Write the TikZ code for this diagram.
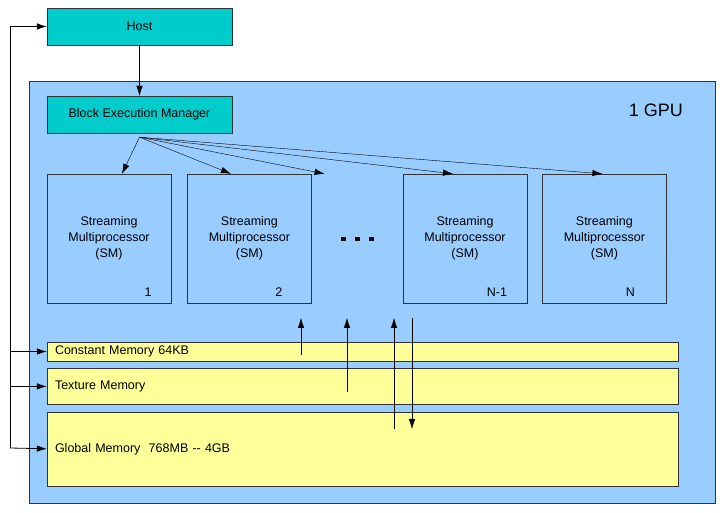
\documentclass[tikz,border=0pt]{standalone}
\usepackage{fontspec}
\setmainfont{Liberation Sans}
\usepackage{tikz}
\usetikzlibrary{arrows.meta,positioning}
\definecolor{hostcyan}{RGB}{0,204,204}
\definecolor{gpublue}{RGB}{153,204,255}
\definecolor{memyellow}{RGB}{255,255,153}
\tikzset{
  unit/.style={draw=black!80, fill=hostcyan, minimum width=185pt, minimum height=37pt, inner sep=0pt},
  smbox/.style={draw=black!80, fill=gpublue, minimum width=124pt, minimum height=129pt, inner sep=0pt, align=center},
  membar/.style={draw=black!80, fill=memyellow, minimum width=631pt, text width=615pt, inner xsep=8pt, inner ysep=0pt, align=left},
  smnum/.style={inner sep=0pt}
}

\begin{document}
\begin{tikzpicture}[x=1pt, y=-1pt, >={Latex[length=10pt,width=6.5pt]}, font=\fontsize{12.5}{16}\selectfont, node distance=7pt]
			\useasboundingbox (0,0) rectangle (724,513);
			\node[draw=black!80, fill=gpublue, minimum width=686pt, minimum height=422pt] (gpu) at (372,292) {};
			\node[font=\fontsize{18}{18}\selectfont] (gpulabel) at (656,110) {1 GPU};
			\node[unit] (host) at (139.5,26.5) {Host};
			\node[unit] (bem) at (139.5,114.5) {Block Execution Manager};
			% streaming multiprocessors
			\node[smbox] (sm1) at (109,238.5) {Streaming\\Multiprocessor\\(SM)};
			\node[smbox, right=16pt of sm1] (sm2) {Streaming\\Multiprocessor\\(SM)};
			\node[smbox] (smn1) at (465,238.5) {Streaming\\Multiprocessor\\(SM)};
			\node[smbox, right=15pt of smn1] (smn) {Streaming\\Multiprocessor\\(SM)};
			\node[smnum] at ([xshift=39pt,yshift=11pt]sm1.south) {1};
			\node[smnum] at ([xshift=29.5pt,yshift=11pt]sm2.south) {2};
			\node[smnum] at ([xshift=32pt,yshift=11pt]smn1.south) {N-1};
			\node[smnum] at ([xshift=26pt,yshift=11pt]smn.south) {N};
			\foreach \x in {343,357,371}
				\fill (\x-2,237) rectangle ++(4.5,4.5);
			% memories
			\node[membar, minimum height=19pt] (const) at (362.5,351.5) {Constant Memory 64KB};
			\node[membar, minimum height=36pt, below=of const] (tex) {Texture Memory};
			\node[membar, minimum height=74pt, below=of tex] (glob) {Global Memory\ \ 768MB -{}- 4GB};
			\path[->]
			(host) edge (bem);
			\coordinate (fan) at ([yshift=-4pt]bem.south);
			\path[->]
			(fan) edge ([xshift=13pt]sm1.north)
			edge ([xshift=-18.5pt]sm2.north)
			edge ([xshift=13pt]sm2.north east)
			edge ([xshift=-12pt]smn1.north)
			edge ([xshift=-2pt]smn.north);
			% memory traffic
			\coordinate (cin) at (301,355);
			\coordinate (cout) at (301,318);
			\coordinate (tin) at (347,392);
			\coordinate (tout) at (347,318);
			\coordinate (gin) at (394,429);
			\coordinate (gout) at (394,318);
			\coordinate (wtop) at (412,318);
			\coordinate (wbot) at (412,429);
			\path[->]
			(cin) edge (cout)
			(tin) edge (tout)
			(gin) edge (gout)
			(wtop) edge (wbot);
			% host link
			\coordinate (bus) at (10,448);
			\path[->, line width=0.8pt]
			(bus) edge[to path={|- (\tikztotarget)}] (host.west)
			edge[to path={|- (\tikztotarget)}] (const.west)
			edge[to path={|- (\tikztotarget)}] (tex.west)
			edge (glob.west);
		\end{tikzpicture}
\end{document}
